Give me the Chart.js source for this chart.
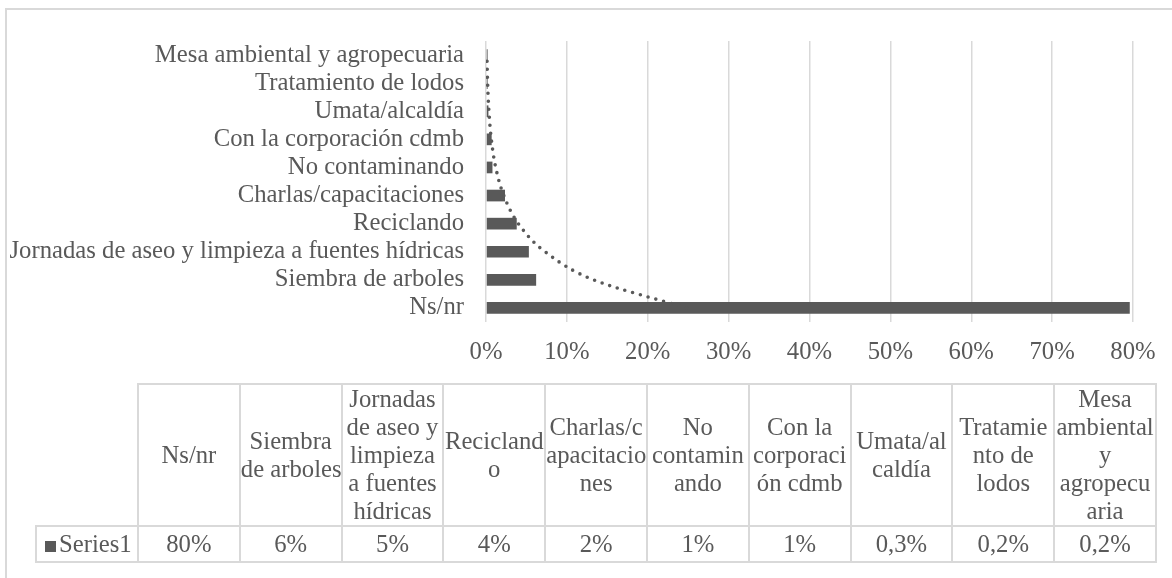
<!DOCTYPE html>
<html><head><meta charset="utf-8">
<script src="https://cdn.jsdelivr.net/npm/chart.js@4.4.0/dist/chart.umd.min.js"></script>
<style>
html,body{margin:0;padding:0;background:#fff;}
#wrap{position:relative;width:1172px;height:578px;overflow:hidden;background:#fff;}
#frame{position:absolute;left:5px;top:8px;width:1200px;height:600px;border:2px solid #d9d9d9;box-sizing:border-box;}
#c{position:absolute;left:0;top:0;}
#tbl{position:absolute;left:35px;top:383px;width:1120px;border-collapse:collapse;table-layout:fixed;font-family:"Liberation Serif",serif;font-size:24.7px;color:#595959;}
#tbl td{border:2px solid #d9d9d9;text-align:center;padding:0;line-height:28px;white-space:nowrap;overflow:visible;}
#tbl td.blank{border-top:none;border-left:none;}
.mk{display:inline-block;width:11px;height:11px;background:#595959;margin-right:3px;vertical-align:0px;}
</style></head>
<body>
<div id="wrap">
<div id="frame"></div>
<canvas id="c" width="1172" height="578"></canvas>
<table id="tbl"></table>
</div>
<script>
const categories = ["Ns/nr","Siembra de arboles","Jornadas de aseo y limpieza a fuentes hídricas","Reciclando","Charlas/capacitaciones","No contaminando","Con la corporación cdmb","Umata/alcaldía","Tratamiento de lodos","Mesa ambiental y agropecuaria"];
const series1 = [79.6, 6.2, 5.3, 3.8, 2.35, 0.8, 0.7, 0.3, 0.2, 0.2];
const trendValues = [24.8, 13.3, 7.3, 4.0, 2.2, 1.2, 0.66, 0.36, 0.2, 0.11];
const seriesName = "Series1";
const tableHeaders = [["Ns/nr"],["Siembra","de arboles"],["Jornadas","de aseo y","limpieza","a fuentes","hídricas"],["Recicland","o"],["Charlas/c","apacitacio","nes"],["No","contamin","ando"],["Con la","corporaci","ón cdmb"],["Umata/al","caldía"],["Tratamie","nto de","lodos"],["Mesa","ambiental","y","agropecu","aria"]];
const tableValues = ["80%","6%","5%","4%","2%","1%","1%","0,3%","0,2%","0,2%"];
const xMin = 0, xMax = 80, xStep = 10;

const GREY = '#595959';
const FS = 24.7;
Chart.defaults.font.family = '"Liberation Serif", "Times New Roman", serif';
Chart.defaults.color = GREY;

new Chart(document.getElementById('c'), {
  data: {
    labels: categories,
    datasets: [
      {type:'line', label:'trend', data: trendValues, borderColor: GREY, borderWidth: 3.6,
       borderDash:[0,8], borderCapStyle:'round', pointRadius:0, fill:false,
       cubicInterpolationMode:'monotone', order:0},
      {type:'bar', label: seriesName, data: series1, backgroundColor: GREY,
       categoryPercentage:1, barPercentage:0.416, order:1}
    ]
  },
  options: {
    indexAxis:'y', responsive:false, animation:false,
    layout:{padding:{top:41,right:39,left:0,bottom:0}},
    plugins:{legend:{display:false}, tooltip:{enabled:false}},
    scales:{
      x:{type:'linear', position:'bottom', min:xMin, max:xMax,
         ticks:{stepSize:xStep, callback:v=>v+'%', font:{size:FS}, color:GREY, padding:16, maxRotation:0},
         grid:{color:'#d9d9d9', lineWidth:1.5, drawTicks:false},
         border:{display:false},
         afterFit:s=>{s.height=256;}},
      y:{type:'category', reverse:true,
         ticks:{font:{size:FS}, color:GREY, padding:22, autoSkip:false},
         grid:{display:false, drawTicks:false},
         border:{display:false},
         afterFit:s=>{s.width=486;}}
    }
  }
});

// data table
const tbl = document.getElementById('tbl');
const colW = 101.8;
let cg = '<colgroup><col style="width:102px">';
for (let i=0;i<categories.length;i++) cg += '<col style="width:'+colW+'px">';
cg += '</colgroup>';
let h = '<tr style="height:136px"><td class="blank"></td>';
tableHeaders.forEach(lines=>{ h += '<td>'+lines.join('<br>')+'</td>'; });
h += '</tr>';
let r = '<tr style="height:36px"><td style="text-align:left;padding-left:8px"><span class="mk"></span>'+seriesName+'</td>';
tableValues.forEach(v=>{ r += '<td>'+v+'</td>'; });
r += '</tr>';
tbl.innerHTML = cg + h + r;
</script>
</body></html>
